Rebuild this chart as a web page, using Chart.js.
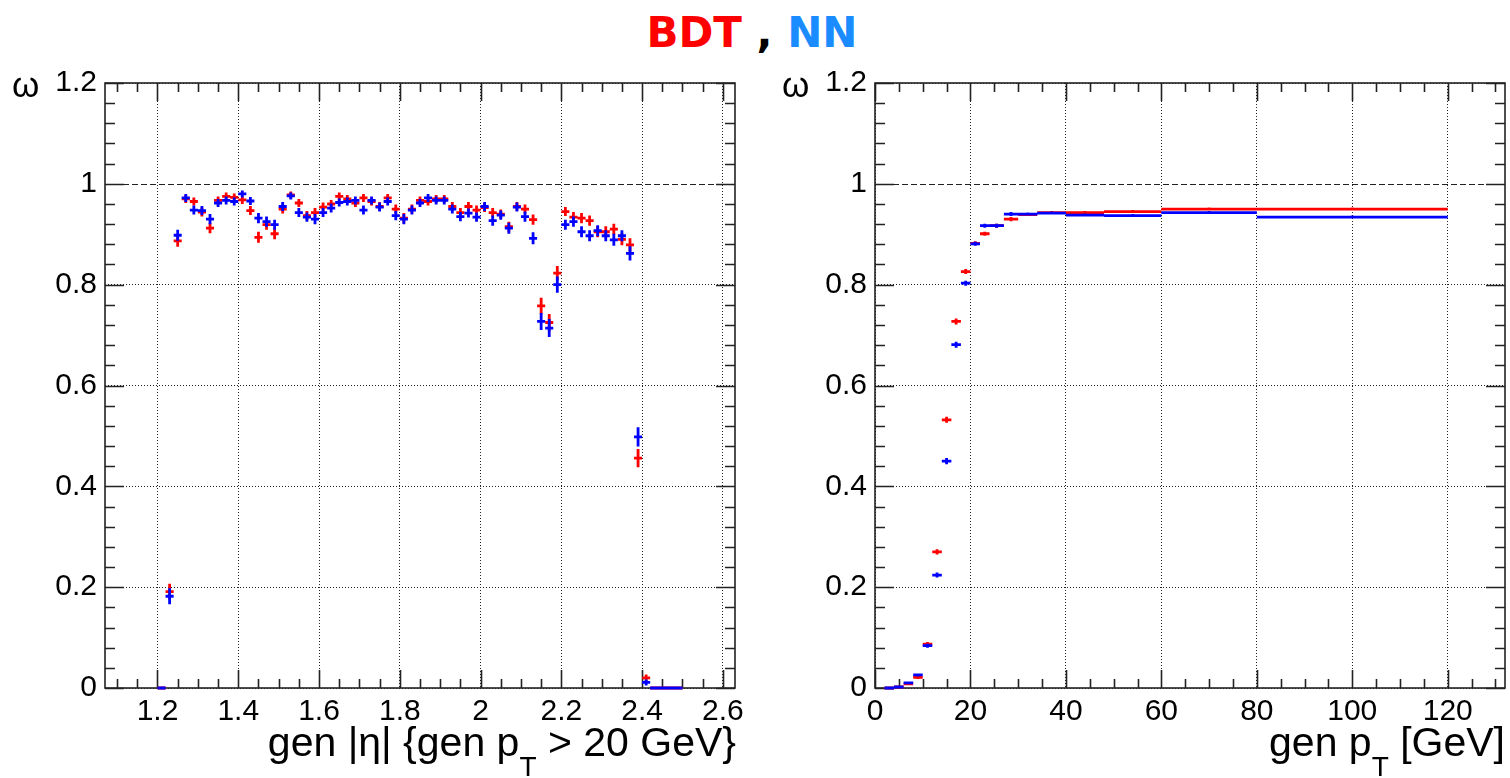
<!DOCTYPE html>
<html>
<head>
<meta charset="utf-8">
<script src="https://cdn.jsdelivr.net/npm/chart.js@4.4.1/dist/chart.umd.min.js"></script>
<style>
  body { margin: 0; background: #fff; width: 1510px; height: 778px; overflow: hidden; position: relative; font-family: "Liberation Sans", Arial, sans-serif; }
  canvas { position: absolute; top: 0; }
  #left { left: 0; }
  #right { left: 750px; }
  .title { position: absolute; top: 12px; left: -3px; width: 1510px; text-align: center; font-family: "DejaVu Sans", sans-serif; font-weight: bold; font-size: 42px; line-height: 42px; }
  .axt { position: absolute; top: 722px; font-size: 41px; line-height: 41px; white-space: nowrap; color: #000; }
  .axt .sub { font-size: 28px; vertical-align: -20px; }
  .eps { position: absolute; top: 67px; font-size: 35px; line-height: 35px; color: #000; }
</style>
</head>
<body>
<div class="title"><span style="color:#ff0000">BDT</span> , <span style="color:#1a8cff">NN</span></div>
<canvas id="left" width="750" height="778"></canvas>
<canvas id="right" width="760" height="778"></canvas>
<div class="eps" style="left:12px">ω</div>
<div class="eps" style="left:782px">ω</div>
<div class="axt" style="right:774px">gen |η| {gen p<span class="sub">T</span> &gt; 20 GeV}</div>
<div class="axt" style="right:5px">gen p<span class="sub">T</span> [GeV]</div>
<script>
// |eta| bins (0.02 wide), efficiency for pT > 20 GeV
const etaEdges = [
  1.20, 1.22, 1.24, 1.26, 1.28, 1.30, 1.32, 1.34, 1.36, 1.38,
  1.40, 1.42, 1.44, 1.46, 1.48, 1.50, 1.52, 1.54, 1.56, 1.58,
  1.60, 1.62, 1.64, 1.66, 1.68, 1.70, 1.72, 1.74, 1.76, 1.78,
  1.80, 1.82, 1.84, 1.86, 1.88, 1.90, 1.92, 1.94, 1.96, 1.98,
  2.00, 2.02, 2.04, 2.06, 2.08, 2.10, 2.12, 2.14, 2.16, 2.18,
  2.20, 2.22, 2.24, 2.26, 2.28, 2.30, 2.32, 2.34, 2.36, 2.38,
  2.40, 2.42, 2.44, 2.46, 2.48, 2.50
];
const etaBDT = [
  0, 0.191,
  0.887, 0.970, 0.965, 0.944, 0.912, 0.967, 0.975, 0.973, 0.968, 0.947,
  0.894, 0.919, 0.901, 0.950, 0.978, 0.962, 0.937, 0.943, 0.954, 0.960,
  0.975, 0.970, 0.962, 0.972, 0.965, 0.955, 0.972, 0.950, 0.932, 0.950,
  0.967, 0.965, 0.970, 0.970, 0.955, 0.943, 0.955, 0.948, 0.953, 0.943,
  0.940, 0.915, 0.955, 0.950, 0.929, 0.758, 0.725, 0.823, 0.945, 0.934,
  0.932, 0.927, 0.905, 0.905, 0.910, 0.890, 0.879,
  0.456, 0.020, 0, 0, 0, 0
];
const etaNN = [
  0, 0.182,
  0.898, 0.972, 0.948, 0.947, 0.930, 0.962, 0.967, 0.965, 0.980, 0.966,
  0.932, 0.925, 0.919, 0.955, 0.976, 0.943, 0.934, 0.930, 0.943, 0.952,
  0.963, 0.965, 0.967, 0.948, 0.967, 0.954, 0.965, 0.937, 0.930, 0.948,
  0.962, 0.972, 0.967, 0.967, 0.950, 0.935, 0.942, 0.934, 0.955, 0.927,
  0.938, 0.912, 0.954, 0.935, 0.892, 0.727, 0.714, 0.800, 0.919, 0.925,
  0.905, 0.897, 0.907, 0.897, 0.889, 0.897, 0.862,
  0.498, 0.011, 0, 0, 0, 0
];
const etaErrBDT = [
  0, 0.016,
  0.012, 0.008, 0.008, 0.009, 0.010, 0.008, 0.008, 0.008, 0.008, 0.009,
  0.011, 0.010, 0.011, 0.009, 0.007, 0.008, 0.009, 0.009, 0.009, 0.008,
  0.008, 0.008, 0.008, 0.008, 0.008, 0.009, 0.008, 0.009, 0.010, 0.009,
  0.008, 0.008, 0.008, 0.008, 0.009, 0.009, 0.009, 0.009, 0.009, 0.009,
  0.009, 0.010, 0.009, 0.009, 0.010, 0.016, 0.017, 0.014, 0.009, 0.010,
  0.010, 0.010, 0.011, 0.011, 0.011, 0.012, 0.013,
  0.018, 0.007, 0, 0, 0, 0
];
const etaErrNN = [
  0, 0.016,
  0.011, 0.008, 0.009, 0.009, 0.010, 0.008, 0.008, 0.008, 0.007, 0.008,
  0.010, 0.010, 0.010, 0.009, 0.007, 0.009, 0.009, 0.010, 0.009, 0.009,
  0.008, 0.008, 0.008, 0.009, 0.008, 0.009, 0.008, 0.009, 0.010, 0.009,
  0.008, 0.008, 0.008, 0.008, 0.009, 0.009, 0.009, 0.009, 0.009, 0.010,
  0.009, 0.011, 0.009, 0.010, 0.012, 0.017, 0.018, 0.016, 0.010, 0.010,
  0.011, 0.011, 0.011, 0.011, 0.012, 0.011, 0.014,
  0.019, 0.006, 0, 0, 0, 0
];

// pT bins (GeV)
const ptEdges = [2, 4, 6, 8, 10, 12, 14, 16, 18, 20, 22, 24, 27, 30, 34, 40, 48, 60, 80, 120];
const ptBDT = [0, 0.002, 0.008, 0.021, 0.087, 0.270, 0.532, 0.727, 0.826, 0.882, 0.901, 0.917, 0.930, 0.939, 0.943, 0.943, 0.945, 0.950, 0.950];
const ptNN = [0, 0.002, 0.010, 0.026, 0.084, 0.224, 0.450, 0.681, 0.803, 0.881, 0.917, 0.917, 0.940, 0.940, 0.942, 0.938, 0.937, 0.943, 0.934];
const ptErrBDT = [0, 0.001, 0.002, 0.003, 0.004, 0.005, 0.006, 0.006, 0.005, 0.004, 0.004, 0.004, 0.004, 0.003, 0.003, 0.003, 0.003, 0.003, 0.003];
const ptErrNN = [0, 0.001, 0.002, 0.003, 0.004, 0.005, 0.006, 0.006, 0.005, 0.004, 0.004, 0.004, 0.004, 0.003, 0.003, 0.003, 0.003, 0.003, 0.003];

const etaTicks = [1.2, 1.4, 1.6, 1.8, 2, 2.2, 2.4, 2.6];
const ptTicks = [0, 20, 40, 60, 80, 100, 120];
const effTicks = [0, 0.2, 0.4, 0.6, 0.8, 1, 1.2];

// horizontal bar over the bin + vertical error bar, separated by gaps
function crosses(edges, vals, errs) {
    const pts = [];
    for (let i = 0; i < vals.length; i++) {
        const lo = edges[i], hi = edges[i + 1], c = (lo + hi) / 2;
        pts.push({x: lo, y: vals[i]}, {x: hi, y: vals[i]}, {x: c, y: null});
        if (errs[i] > 0) {
            pts.push({x: c, y: vals[i] - errs[i]}, {x: c, y: vals[i] + errs[i]}, {x: c, y: null});
        }
    }
    return pts;
}

// ROOT style frame: box, inner ticks on all four sides, dashed line at 1
const rootFrame = {
    id: 'rootFrame',
    beforeDatasetsDraw(chart, args, opts) {
        const {ctx, chartArea: a, scales: {x, y}} = chart;
        ctx.save();

        const p1 = Math.round(y.getPixelForValue(1)) + 0.5;
        ctx.strokeStyle = '#222';
        ctx.lineWidth = 1.2;
        ctx.setLineDash([6, 3]);
        ctx.beginPath();
        ctx.moveTo(a.left, p1);
        ctx.lineTo(a.right, p1);
        ctx.stroke();
        ctx.setLineDash([]);

        ctx.strokeStyle = '#222';
        ctx.lineWidth = 1.6;
        ctx.beginPath();
        const isMajor = (v, m) => Math.abs(v / m - Math.round(v / m)) < 1e-6;
        for (let v = Math.ceil(x.min / opts.xStep - 1e-6) * opts.xStep; v <= x.max + 1e-9; v += opts.xStep) {
            const px = Math.round(x.getPixelForValue(v)) + 0.5;
            const len = isMajor(v, opts.xMajor) ? 18 : 9;
            ctx.moveTo(px, a.bottom); ctx.lineTo(px, a.bottom - len);
            ctx.moveTo(px, a.top); ctx.lineTo(px, a.top + len);
        }
        for (let v = 0; v <= y.max + 1e-9; v += opts.yStep) {
            const py = Math.round(y.getPixelForValue(v)) + 0.5;
            const len = isMajor(v, opts.yMajor) ? 19 : 10;
            ctx.moveTo(a.left, py); ctx.lineTo(a.left + len, py);
            ctx.moveTo(a.right, py); ctx.lineTo(a.right - len, py);
        }
        ctx.stroke();
        ctx.strokeRect(a.left, a.top, a.right - a.left, a.bottom - a.top);
        ctx.restore();
    }
};

const tickFont = {family: '"Liberation Sans", Arial, sans-serif', size: 30};

function makePanel(id, opt) {
    return new Chart(document.getElementById(id), {
        type: 'line',
        data: {
            datasets: [
                {label: 'NN', data: crosses(opt.edges, opt.nn, opt.errNN), borderColor: '#0000ff'},
                {label: 'BDT', data: crosses(opt.edges, opt.bdt, opt.errBDT), borderColor: '#ff0000'}
            ].map(d => Object.assign(d, {borderWidth: 2.8, pointRadius: 0, fill: false, tension: 0, clip: false, borderCapStyle: 'butt'}))
        },
        options: {
            responsive: false,
            devicePixelRatio: 1,
            animation: false,
            layout: {padding: {top: 83, right: opt.padRight, left: 0, bottom: 0}},
            plugins: {
                legend: {display: false},
                tooltip: {enabled: false},
                rootFrame: opt.frame
            },
            scales: {
                x: {
                    type: 'linear',
                    min: opt.xMin,
                    max: opt.xMax,
                    afterBuildTicks: s => { s.ticks = opt.xTicks.map(v => ({value: v})); },
                    afterFit: s => { s.height = 90; },
                    ticks: {font: tickFont, color: '#000', padding: 6, maxRotation: 0, autoSkip: false, callback: v => String(v)},
                    grid: {color: '#222', lineWidth: 1, drawTicks: false},
                    border: {display: false, dash: [1, 2]}
                },
                y: {
                    min: 0,
                    max: 1.2,
                    afterBuildTicks: s => { s.ticks = effTicks.map(v => ({value: v})); },
                    afterFit: s => { s.width = opt.yWidth; },
                    ticks: {font: tickFont, color: '#000', padding: 8, autoSkip: false, callback: v => String(v)},
                    grid: {color: c => (c.tick && c.tick.value === 1) ? 'rgba(0,0,0,0)' : '#222', lineWidth: 1, drawTicks: false},
                    border: {display: false, dash: [1, 2]}
                }
            }
        },
        plugins: [rootFrame]
    });
}

makePanel('left', {
    edges: etaEdges, bdt: etaBDT, nn: etaNN, errBDT: etaErrBDT, errNN: etaErrNN,
    xMin: 1.07, xMax: 2.63, xTicks: etaTicks, yWidth: 105, padRight: 14,
    frame: {xStep: 0.05, xMajor: 0.2, yStep: 0.04, yMajor: 0.2}
});

makePanel('right', {
    edges: ptEdges, bdt: ptBDT, nn: ptNN, errBDT: ptErrBDT, errNN: ptErrNN,
    xMin: 0, xMax: 132, xTicks: ptTicks, yWidth: 125, padRight: 5,
    frame: {xStep: 5, xMajor: 20, yStep: 0.04, yMajor: 0.2}
});
</script>
</body>
</html>
